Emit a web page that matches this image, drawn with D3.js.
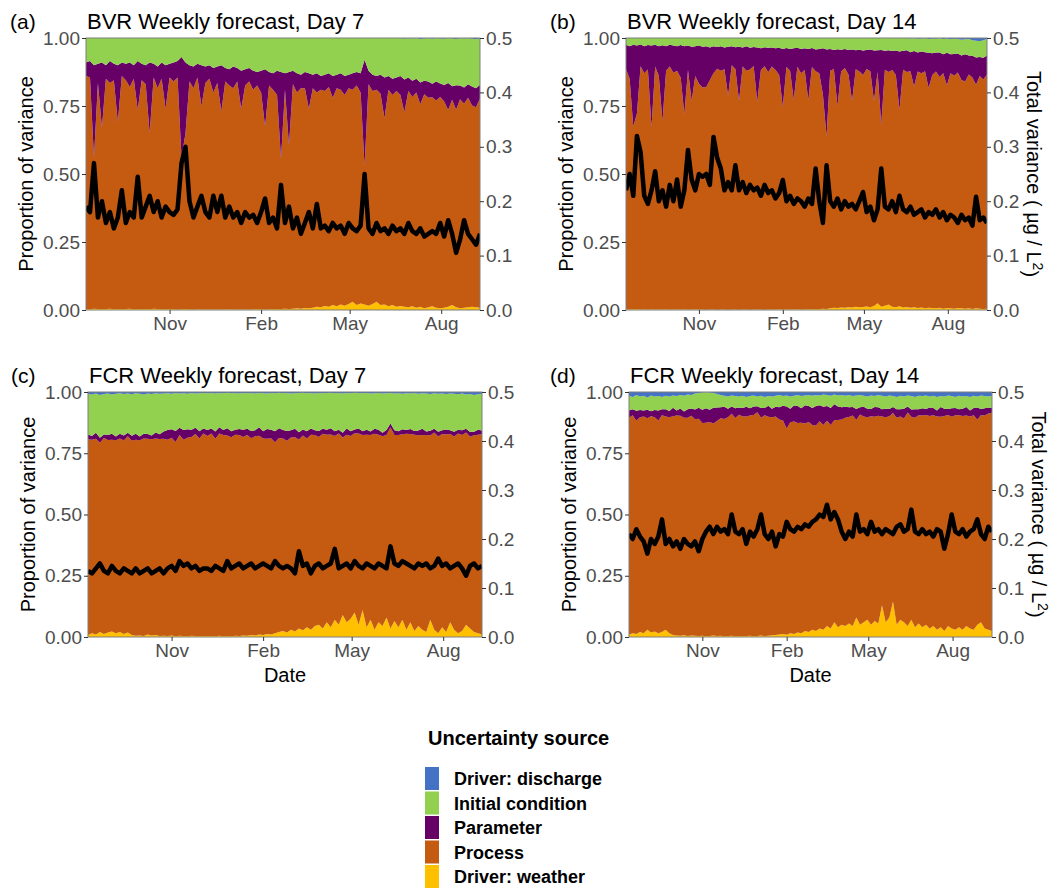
<!DOCTYPE html>
<html><head><meta charset="utf-8">
<script src="https://cdn.jsdelivr.net/npm/d3@7"></script>
<style>
body{margin:0;background:#fff;}
svg{display:block;font-family:"Liberation Sans",Arial,sans-serif;}
</style>
</head><body>
<svg id="chart" width="1059" height="888"></svg>
<script>
// ---------- categories / labels ----------
const sources = ["weather", "process", "parameter", "initial", "discharge"]; // stack order bottom -> top
const legendOrder = ["discharge", "initial", "parameter", "process", "weather"];
const sourceLabels = {discharge: "Driver: discharge", initial: "Initial condition", parameter: "Parameter", process: "Process", weather: "Driver: weather"};
const monthTickDates = ["2020-11-01", "2021-02-01", "2021-05-01", "2021-08-01"];
const monthTickLabels = ["Nov", "Feb", "May", "Aug"];
const leftTicks = [0, 0.25, 0.5, 0.75, 1];
const rightTicks = [0, 0.1, 0.2, 0.3, 0.4, 0.5];
const stepDays = 4;

// ---------- (a) BVR Day 7 ----------
const bvr7Weather = [
0.004,0.003,0.005,0.004,0.003,0.004,0.005,0.003,0.004,0.003,
0.004,0.005,0.003,0.004,0.003,0.004,0.003,0.005,0.004,0.003,
0.003,0.004,0.003,0.002,0.003,0.004,0.003,0.002,0.003,0.003,
0.002,0.003,0.002,0.003,0.002,0.003,0.003,0.002,0.003,0.002,
0.003,0.002,0.003,0.004,0.003,0.002,0.003,0.004,0.003,0.004,
0.005,0.004,0.005,0.006,0.005,0.007,0.006,0.008,0.012,0.01,
0.015,0.012,0.018,0.014,0.02,0.016,0.022,0.03,0.018,0.024,
0.02,0.016,0.022,0.03,0.018,0.02,0.014,0.018,0.012,0.015,
0.012,0.01,0.014,0.008,0.012,0.006,0.01,0.014,0.008,0.006,
0.008,0.012,0.018,0.01,0.006,0.008,0.01,0.012,0.01,0.008];
const bvr7Process = [
0.856,0.852,0.555,0.831,0.667,0.846,0.83,0.842,0.686,0.857,
0.841,0.815,0.847,0.731,0.842,0.826,0.647,0.85,0.811,0.847,
0.737,0.851,0.837,0.853,0.557,0.646,0.837,0.813,0.852,0.747,
0.833,0.847,0.798,0.832,0.728,0.837,0.822,0.813,0.837,0.738,
0.822,0.838,0.807,0.821,0.797,0.673,0.822,0.806,0.787,0.551,
0.805,0.601,0.825,0.794,0.81,0.808,0.734,0.807,0.788,0.80,
0.79,0.808,0.762,0.801,0.79,0.774,0.793,0.78,0.807,0.776,
0.51,0.814,0.783,0.78,0.777,0.685,0.796,0.772,0.793,0.775,
0.715,0.795,0.769,0.792,0.744,0.787,0.77,0.768,0.762,0.777,
0.759,0.723,0.755,0.726,0.769,0.75,0.77,0.74,0.735,0.77];
const bvr7Parameter = [
0.05,0.06,0.34,0.07,0.24,0.05,0.08,0.06,0.21,0.05,
0.06,0.09,0.05,0.18,0.06,0.07,0.26,0.05,0.08,0.06,
0.16,0.05,0.07,0.06,0.37,0.26,0.06,0.08,0.05,0.15,
0.06,0.05,0.09,0.06,0.17,0.05,0.06,0.08,0.05,0.14,
0.06,0.05,0.07,0.05,0.08,0.21,0.05,0.06,0.09,0.32,
0.06,0.27,0.05,0.07,0.05,0.06,0.13,0.05,0.07,0.05,
0.06,0.05,0.08,0.05,0.06,0.07,0.05,0.06,0.05,0.07,
0.39,0.05,0.06,0.05,0.07,0.15,0.05,0.06,0.05,0.07,
0.12,0.05,0.06,0.05,0.08,0.05,0.06,0.05,0.07,0.05,
0.06,0.10,0.05,0.09,0.05,0.06,0.05,0.07,0.07,0.05];
const bvr7Initial = [
0.09,0.085,0.10,0.095,0.09,0.10,0.085,0.095,0.10,0.09,
0.095,0.09,0.10,0.085,0.095,0.10,0.09,0.095,0.105,0.09,
0.10,0.095,0.09,0.085,0.07,0.09,0.10,0.105,0.095,0.10,
0.105,0.10,0.11,0.105,0.10,0.11,0.115,0.105,0.11,0.12,
0.115,0.11,0.12,0.125,0.12,0.115,0.125,0.13,0.12,0.125,
0.13,0.125,0.12,0.13,0.135,0.125,0.13,0.135,0.13,0.14,
0.135,0.13,0.14,0.135,0.13,0.14,0.135,0.13,0.125,0.13,
0.08,0.12,0.135,0.14,0.135,0.145,0.14,0.15,0.145,0.14,
0.15,0.145,0.155,0.15,0.16,0.155,0.16,0.165,0.16,0.165,
0.17,0.165,0.175,0.17,0.175,0.18,0.17,0.175,0.18,0.17];
const bvr7Discharge = [
0,0,0,0,0,0,0,0,0,0, 0,0,0,0,0,0,0,0,0,0,
0,0,0,0,0,0,0,0,0,0, 0,0,0,0,0,0,0,0,0,0,
0,0,0,0,0,0,0,0,0,0, 0,0,0,0,0,0,0,0,0,0,
0,0,0,0,0,0,0,0,0,0, 0,0,0,0,0,0,0,0,0,0,
0.003,0,0.002,0,0.004,0.002,0,0.003,0,0.002,
0.003,0,0.002,0.004,0,0.002,0,0.003,0.005,0.002];
const bvr7TotalVar = [
0.19,0.18,0.27,0.17,0.20,0.16,0.18,0.15,0.17,0.22,
0.16,0.18,0.17,0.245,0.17,0.19,0.21,0.18,0.20,0.17,
0.19,0.18,0.175,0.185,0.27,0.30,0.20,0.17,0.19,0.21,
0.18,0.17,0.21,0.18,0.21,0.17,0.19,0.17,0.18,0.16,
0.18,0.17,0.175,0.16,0.18,0.205,0.16,0.17,0.15,0.23,
0.16,0.19,0.15,0.17,0.14,0.16,0.18,0.15,0.195,0.15,
0.155,0.145,0.16,0.15,0.155,0.14,0.16,0.15,0.145,0.155,
0.25,0.15,0.14,0.16,0.145,0.15,0.14,0.155,0.145,0.15,
0.14,0.16,0.145,0.14,0.15,0.135,0.14,0.145,0.14,0.16,
0.135,0.165,0.14,0.105,0.13,0.165,0.14,0.13,0.12,0.14];

// ---------- (b) BVR Day 14 ----------
const bvr14Weather = [
0.003,0.002,0.003,0.004,0.002,0.003,0.002,0.003,0.002,0.003,
0.002,0.003,0.002,0.002,0.003,0.002,0.003,0.002,0.002,0.003,
0.002,0.002,0.001,0.002,0.002,0.001,0.002,0.002,0.001,0.002,
0.002,0.001,0.002,0.002,0.001,0.002,0.002,0.002,0.001,0.002,
0.002,0.002,0.003,0.002,0.003,0.002,0.003,0.003,0.002,0.003,
0.003,0.004,0.003,0.004,0.005,0.004,0.006,0.008,0.007,0.009,
0.008,0.01,0.009,0.012,0.01,0.011,0.013,0.01,0.015,0.025,
0.012,0.016,0.02,0.012,0.01,0.014,0.009,0.011,0.008,0.01,
0.007,0.009,0.006,0.008,0.007,0.006,0.008,0.005,0.007,0.006,
0.005,0.007,0.006,0.005,0.006,0.004,0.006,0.005,0.004,0.005];
const bvr14Process = [
0.882,0.848,0.672,0.718,0.894,0.867,0.882,0.669,0.893,0.857,
0.691,0.877,0.893,0.87,0.877,0.852,0.717,0.88,0.766,0.857,
0.83,0.816,0.819,0.843,0.868,0.886,0.878,0.883,0.787,0.898,
0.884,0.767,0.893,0.878,0.883,0.895,0.763,0.88,0.895,0.872,
0.893,0.88,0.861,0.743,0.89,0.878,0.769,0.891,0.868,0.879,
0.767,0.889,0.875,0.866,0.787,0.634,0.874,0.878,0.742,0.868,
0.882,0.856,0.759,0.873,0.867,0.853,0.873,0.868,0.754,0.85,
0.669,0.867,0.855,0.87,0.854,0.721,0.874,0.864,0.87,0.812,
0.87,0.861,0.872,0.808,0.857,0.871,0.849,0.865,0.819,0.864,
0.856,0.866,0.84,0.835,0.86,0.851,0.822,0.855,0.843,0.861];
const bvr14Parameter = [
0.09,0.12,0.30,0.25,0.08,0.10,0.09,0.30,0.08,0.11,
0.28,0.09,0.08,0.10,0.09,0.12,0.25,0.09,0.20,0.11,
0.14,0.15,0.15,0.12,0.10,0.08,0.09,0.08,0.18,0.07,
0.08,0.20,0.07,0.09,0.08,0.07,0.20,0.08,0.07,0.09,
0.07,0.08,0.10,0.215,0.07,0.08,0.19,0.07,0.09,0.08,
0.19,0.07,0.08,0.09,0.17,0.32,0.08,0.07,0.21,0.08,
0.07,0.09,0.19,0.07,0.08,0.09,0.07,0.08,0.185,0.08,
0.275,0.07,0.08,0.07,0.09,0.215,0.07,0.08,0.07,0.13,
0.07,0.08,0.07,0.13,0.08,0.07,0.09,0.07,0.12,0.07,
0.08,0.07,0.09,0.10,0.07,0.08,0.10,0.07,0.08,0.07];
const bvr14Initial = [
0.025,0.03,0.025,0.028,0.024,0.03,0.026,0.028,0.025,0.03,
0.027,0.03,0.025,0.028,0.03,0.026,0.03,0.028,0.032,0.03,
0.028,0.032,0.03,0.035,0.03,0.033,0.03,0.035,0.032,0.03,
0.034,0.032,0.035,0.03,0.036,0.033,0.035,0.038,0.034,0.036,
0.035,0.038,0.036,0.04,0.037,0.04,0.038,0.036,0.04,0.038,
0.04,0.037,0.042,0.04,0.038,0.042,0.04,0.044,0.041,0.043,
0.04,0.044,0.042,0.045,0.043,0.046,0.044,0.042,0.046,0.045,
0.044,0.047,0.045,0.048,0.046,0.05,0.047,0.045,0.05,0.048,
0.05,0.048,0.052,0.05,0.054,0.05,0.053,0.056,0.052,0.055,
0.056,0.053,0.058,0.055,0.06,0.057,0.062,0.058,0.065,0.06];
const bvr14Discharge = [
0,0,0,0,0,0,0,0,0,0, 0,0,0,0,0,0,0,0,0,0,
0,0,0,0,0,0,0,0,0,0, 0,0,0,0,0,0,0,0,0,0,
0,0,0,0,0,0,0,0,0,0, 0,0,0,0,0,0,0,0,0,0,
0,0,0,0,0,0,0,0,0,0, 0,0,0,0,0,0,0,0,0.002,0,
0.003,0.002,0,0.004,0.002,0.003,0,0.004,0.002,0.005,
0.003,0.004,0.006,0.005,0.004,0.008,0.01,0.012,0.008,0.004];
const bvr14TotalVar = [
0.22,0.25,0.21,0.32,0.29,0.21,0.195,0.22,0.255,0.20,
0.22,0.19,0.23,0.20,0.24,0.19,0.22,0.294,0.24,0.22,
0.25,0.245,0.25,0.23,0.318,0.28,0.26,0.22,0.235,0.22,
0.266,0.22,0.235,0.215,0.23,0.22,0.225,0.21,0.23,0.215,
0.22,0.205,0.215,0.239,0.20,0.21,0.195,0.205,0.20,0.19,
0.205,0.195,0.26,0.20,0.16,0.266,0.20,0.19,0.205,0.185,
0.20,0.19,0.195,0.185,0.20,0.217,0.18,0.19,0.165,0.185,
0.26,0.19,0.185,0.20,0.18,0.21,0.185,0.18,0.19,0.175,
0.18,0.185,0.17,0.18,0.175,0.185,0.17,0.18,0.165,0.175,
0.17,0.16,0.175,0.165,0.17,0.155,0.208,0.165,0.17,0.16];

// ---------- (c) FCR Day 7 ----------
const fcr7Weather = [
0.008,0.015,0.01,0.02,0.012,0.018,0.022,0.015,0.02,0.012,
0.018,0.008,0.005,0.006,0.004,0.01,0.006,0.008,0.004,0.005,
0.004,0.006,0.003,0.005,0.004,0.003,0.005,0.004,0.003,0.004,
0.003,0.004,0.003,0.005,0.003,0.004,0.003,0.005,0.004,0.006,
0.005,0.008,0.006,0.01,0.008,0.012,0.01,0.015,0.02,0.025,
0.018,0.03,0.022,0.035,0.028,0.04,0.03,0.045,0.05,0.035,
0.06,0.04,0.07,0.05,0.09,0.06,0.075,0.1,0.05,0.11,
0.04,0.07,0.03,0.06,0.045,0.08,0.035,0.065,0.04,0.07,
0.03,0.06,0.025,0.045,0.03,0.02,0.07,0.03,0.015,0.04,
0.02,0.06,0.03,0.015,0.025,0.05,0.035,0.02,0.015,0.01];
const fcr7Process = [
0.799,0.79,0.799,0.773,0.80,0.786,0.783,0.788,0.79,0.79,
0.801,0.793,0.80,0.797,0.806,0.799,0.801,0.802,0.804,0.804,
0.801,0.807,0.793,0.819,0.801,0.81,0.811,0.825,0.807,0.827,
0.817,0.827,0.806,0.826,0.822,0.818,0.812,0.821,0.82,0.81,
0.82,0.803,0.813,0.811,0.802,0.797,0.801,0.78,0.792,0.785,
0.783,0.784,0.793,0.771,0.794,0.77,0.796,0.779,0.766,0.795,
0.766,0.787,0.75,0.781,0.724,0.766,0.745,0.732,0.781,0.715,
0.786,0.754,0.80,0.766,0.774,0.745,0.821,0.759,0.785,0.758,
0.80,0.769,0.801,0.778,0.795,0.804,0.752,0.805,0.803,0.789,
0.807,0.769,0.788,0.816,0.799,0.785,0.782,0.803,0.811,0.818];
const fcr7Parameter = [
0.02,0.015,0.025,0.02,0.015,0.02,0.025,0.015,0.02,0.02,
0.015,0.02,0.025,0.015,0.02,0.02,0.015,0.025,0.02,0.03,
0.04,0.035,0.045,0.03,0.04,0.035,0.03,0.025,0.03,0.02,
0.025,0.02,0.03,0.025,0.02,0.03,0.025,0.02,0.025,0.03,
0.025,0.03,0.025,0.035,0.03,0.04,0.035,0.045,0.04,0.035,
0.04,0.03,0.035,0.03,0.025,0.03,0.025,0.02,0.025,0.02,
0.02,0.025,0.02,0.015,0.02,0.025,0.02,0.015,0.02,0.015,
0.02,0.015,0.02,0.02,0.015,0.02,0.015,0.02,0.015,0.02,
0.015,0.02,0.015,0.02,0.025,0.015,0.02,0.015,0.02,0.015,
0.02,0.015,0.02,0.015,0.02,0.015,0.02,0.015,0.02,0.015];
const fcr7Initial = [
0.165,0.17,0.16,0.175,0.165,0.17,0.16,0.175,0.165,0.17,
0.16,0.17,0.165,0.175,0.16,0.165,0.17,0.16,0.165,0.155,
0.15,0.145,0.155,0.14,0.15,0.145,0.15,0.14,0.155,0.145,
0.15,0.145,0.155,0.14,0.15,0.145,0.155,0.15,0.145,0.15,
0.145,0.155,0.15,0.14,0.155,0.145,0.15,0.155,0.145,0.15,
0.155,0.15,0.145,0.16,0.15,0.155,0.145,0.15,0.155,0.145,
0.15,0.145,0.155,0.15,0.16,0.145,0.155,0.15,0.145,0.155,
0.15,0.155,0.145,0.15,0.16,0.15,0.125,0.15,0.155,0.145,
0.15,0.145,0.155,0.15,0.145,0.155,0.15,0.145,0.155,0.15,
0.145,0.15,0.155,0.145,0.15,0.14,0.155,0.15,0.145,0.15];
const fcr7Discharge = [
0.008,0.01,0.006,0.012,0.008,0.006,0.01,0.007,0.005,0.008,
0.006,0.009,0.005,0.007,0.01,0.006,0.008,0.005,0.007,0.006,
0.005,0.007,0.004,0.006,0.005,0.007,0.004,0.006,0.005,0.004,
0.005,0.004,0.006,0.004,0.005,0.003,0.005,0.004,0.006,0.004,
0.005,0.004,0.006,0.004,0.005,0.006,0.004,0.005,0.003,0.005,
0.004,0.006,0.005,0.004,0.003,0.005,0.004,0.006,0.004,0.005,
0.004,0.003,0.005,0.004,0.006,0.004,0.005,0.003,0.004,0.005,
0.004,0.006,0.005,0.004,0.006,0.005,0.004,0.006,0.005,0.007,
0.005,0.006,0.004,0.007,0.005,0.006,0.008,0.005,0.007,0.006,
0.008,0.006,0.007,0.009,0.006,0.01,0.008,0.012,0.009,0.007];
const fcr7TotalVar = [
0.135,0.13,0.14,0.15,0.135,0.13,0.145,0.135,0.13,0.14,
0.135,0.13,0.14,0.13,0.135,0.14,0.13,0.135,0.14,0.13,
0.14,0.145,0.135,0.155,0.145,0.15,0.14,0.145,0.135,0.14,
0.14,0.135,0.145,0.14,0.135,0.155,0.14,0.145,0.15,0.14,
0.145,0.15,0.14,0.145,0.15,0.145,0.14,0.155,0.145,0.14,
0.145,0.14,0.13,0.175,0.145,0.15,0.13,0.145,0.15,0.14,
0.145,0.15,0.18,0.14,0.145,0.15,0.14,0.155,0.145,0.14,
0.15,0.145,0.14,0.15,0.145,0.14,0.185,0.15,0.145,0.155,
0.15,0.145,0.14,0.15,0.145,0.15,0.14,0.145,0.16,0.145,
0.15,0.14,0.145,0.15,0.14,0.125,0.145,0.15,0.14,0.145];

// ---------- (d) FCR Day 14 ----------
const fcr14Weather = [
0.01,0.015,0.012,0.02,0.015,0.03,0.018,0.022,0.015,0.02,
0.03,0.015,0.008,0.006,0.005,0.007,0.004,0.006,0.005,0.004,
0.005,0.003,0.004,0.006,0.004,0.005,0.003,0.004,0.005,0.003,
0.004,0.003,0.004,0.005,0.003,0.004,0.006,0.004,0.005,0.007,
0.008,0.01,0.012,0.009,0.015,0.012,0.018,0.015,0.025,0.02,
0.03,0.025,0.035,0.03,0.045,0.035,0.06,0.04,0.05,0.045,
0.055,0.045,0.08,0.05,0.06,0.07,0.05,0.065,0.055,0.13,
0.06,0.08,0.145,0.05,0.07,0.06,0.045,0.07,0.04,0.055,
0.04,0.05,0.035,0.045,0.03,0.04,0.025,0.045,0.035,0.03,
0.04,0.03,0.045,0.035,0.03,0.05,0.06,0.035,0.03,0.025];
const fcr14Process = [
0.885,0.89,0.871,0.877,0.885,0.863,0.883,0.875,0.869,0.885,
0.87,0.882,0.893,0.898,0.898,0.888,0.891,0.897,0.884,0.887,
0.868,0.871,0.874,0.865,0.878,0.888,0.887,0.893,0.906,0.891,
0.903,0.897,0.896,0.899,0.903,0.913,0.889,0.901,0.894,0.89,
0.892,0.878,0.872,0.842,0.862,0.868,0.855,0.859,0.846,0.858,
0.835,0.838,0.846,0.835,0.838,0.83,0.825,0.846,0.838,0.85,
0.843,0.859,0.806,0.858,0.84,0.827,0.851,0.834,0.848,0.77,
0.837,0.821,0.769,0.845,0.83,0.832,0.871,0.829,0.855,0.85,
0.864,0.856,0.867,0.86,0.87,0.859,0.877,0.861,0.864,0.875,
0.865,0.872,0.859,0.865,0.875,0.837,0.846,0.869,0.882,0.89];
const fcr14Parameter = [
0.03,0.025,0.04,0.03,0.025,0.035,0.02,0.03,0.04,0.025,
0.03,0.025,0.035,0.02,0.03,0.025,0.035,0.03,0.04,0.045,
0.055,0.06,0.05,0.065,0.055,0.045,0.05,0.035,0.03,0.04,
0.03,0.035,0.04,0.03,0.035,0.025,0.04,0.03,0.045,0.035,
0.04,0.05,0.06,0.09,0.055,0.065,0.07,0.06,0.075,0.065,
0.07,0.08,0.065,0.075,0.06,0.07,0.065,0.055,0.05,0.045,
0.04,0.035,0.045,0.03,0.04,0.035,0.03,0.04,0.035,0.03,
0.035,0.03,0.025,0.035,0.03,0.04,0.025,0.03,0.035,0.025,
0.03,0.025,0.035,0.03,0.025,0.04,0.03,0.025,0.035,0.03,
0.025,0.03,0.035,0.025,0.03,0.05,0.025,0.03,0.025,0.02];
const fcr14Initial = [
0.06,0.05,0.065,0.055,0.06,0.05,0.065,0.055,0.06,0.05,
0.055,0.06,0.05,0.06,0.055,0.065,0.06,0.055,0.065,0.06,
0.07,0.065,0.07,0.06,0.055,0.05,0.045,0.05,0.045,0.05,
0.045,0.05,0.04,0.05,0.045,0.04,0.05,0.045,0.04,0.05,
0.045,0.05,0.04,0.045,0.05,0.04,0.045,0.05,0.04,0.045,
0.05,0.045,0.04,0.05,0.045,0.05,0.04,0.045,0.05,0.045,
0.05,0.045,0.055,0.05,0.045,0.05,0.055,0.045,0.05,0.055,
0.05,0.055,0.045,0.05,0.055,0.05,0.045,0.055,0.05,0.055,
0.05,0.055,0.045,0.05,0.055,0.045,0.05,0.055,0.05,0.045,
0.055,0.05,0.045,0.055,0.05,0.045,0.055,0.05,0.045,0.05];
const fcr14Discharge = [
0.015,0.02,0.012,0.018,0.015,0.022,0.014,0.018,0.016,0.02,
0.015,0.018,0.014,0.016,0.012,0.015,0.01,0.012,0.006,0.004,
0.002,0.001,0.002,0.004,0.008,0.012,0.015,0.018,0.014,0.016,
0.018,0.015,0.02,0.016,0.014,0.018,0.015,0.02,0.016,0.018,
0.015,0.012,0.016,0.014,0.018,0.015,0.012,0.016,0.014,0.012,
0.015,0.012,0.014,0.01,0.012,0.015,0.01,0.014,0.012,0.015,
0.012,0.016,0.014,0.012,0.015,0.018,0.014,0.016,0.012,0.015,
0.018,0.014,0.016,0.02,0.015,0.018,0.014,0.016,0.02,0.015,
0.016,0.014,0.018,0.015,0.02,0.016,0.018,0.014,0.016,0.02,
0.015,0.018,0.016,0.02,0.015,0.018,0.014,0.016,0.018,0.015];
const fcr14TotalVar = [
0.21,0.2,0.22,0.205,0.195,0.17,0.2,0.19,0.205,0.24,
0.19,0.2,0.185,0.195,0.18,0.2,0.19,0.185,0.195,0.175,
0.2,0.215,0.225,0.21,0.225,0.215,0.22,0.21,0.25,0.215,
0.21,0.22,0.19,0.215,0.205,0.22,0.25,0.21,0.2,0.215,
0.185,0.21,0.205,0.235,0.22,0.215,0.225,0.22,0.23,0.225,
0.235,0.24,0.25,0.245,0.27,0.24,0.255,0.24,0.215,0.2,
0.215,0.205,0.25,0.215,0.22,0.21,0.235,0.215,0.22,0.21,
0.22,0.215,0.21,0.225,0.23,0.215,0.22,0.26,0.215,0.21,
0.22,0.21,0.215,0.205,0.22,0.215,0.18,0.21,0.25,0.215,
0.21,0.22,0.205,0.215,0.22,0.24,0.21,0.2,0.225,0.215];

// ---------- panel configuration (layout kept separate from data) ----------
const panels = [
  {tag: "(a)", title: "BVR Weekly forecast, Day 7", start: "2020-08-09",
   series: {weather: bvr7Weather, process: bvr7Process, parameter: bvr7Parameter, initial: bvr7Initial, discharge: bvr7Discharge},
   total: bvr7TotalVar, box: {x0: 86, x1: 480, y0: 38, y1: 310}, tagX: 10, dateLabel: false, rightLabel: false},
  {tag: "(b)", title: "BVR Weekly forecast, Day 14", start: "2020-08-13",
   series: {weather: bvr14Weather, process: bvr14Process, parameter: bvr14Parameter, initial: bvr14Initial, discharge: bvr14Discharge},
   total: bvr14TotalVar, box: {x0: 626, x1: 987, y0: 38, y1: 310}, tagX: 550, dateLabel: false, rightLabel: true},
  {tag: "(c)", title: "FCR Weekly forecast, Day 7", start: "2020-08-09",
   series: {weather: fcr7Weather, process: fcr7Process, parameter: fcr7Parameter, initial: fcr7Initial, discharge: fcr7Discharge},
   total: fcr7TotalVar, box: {x0: 88, x1: 482, y0: 392, y1: 637}, tagX: 11, dateLabel: true, rightLabel: false},
  {tag: "(d)", title: "FCR Weekly forecast, Day 14", start: "2020-08-13",
   series: {weather: fcr14Weather, process: fcr14Process, parameter: fcr14Parameter, initial: fcr14Initial, discharge: fcr14Discharge},
   total: fcr14TotalVar, box: {x0: 629, x1: 992, y0: 392, y1: 637}, tagX: 550, dateLabel: true, rightLabel: true}
];

const colors = {discharge: "#4472C4", initial: "#92D050", parameter: "#660066", process: "#C55A11", weather: "#FFC000"};
const tickColor = "#4D4D4D";

const svg = d3.select("#chart");
const parse = d3.timeParse("%Y-%m-%d");
const tickDates = monthTickDates.map(parse);

panels.forEach((p, pi) => {
  const {x0, x1, y0, y1} = p.box;
  const start = parse(p.start);
  const n = p.total.length;
  const rows = d3.range(n).map(i => {
    const r = {date: d3.timeDay.offset(start, i * stepDays), total: p.total[i]};
    sources.forEach(s => { r[s] = p.series[s][i]; });
    return r;
  });
  const stacked = d3.stack().keys(sources).offset(d3.stackOffsetExpand)(rows);

  const x = d3.scaleTime().domain([rows[0].date, rows[n - 1].date]).range([x0, x1]);
  const y = d3.scaleLinear().domain([0, 1]).range([y1, y0]);
  const yR = d3.scaleLinear().domain([0, 0.5]).range([y1, y0]);

  const g = svg.append("g");
  const clipId = "clip" + pi;
  svg.append("clipPath").attr("id", clipId).append("rect")
    .attr("x", x0).attr("y", y0).attr("width", x1 - x0).attr("height", y1 - y0);

  const plot = g.append("g").attr("clip-path", `url(#${clipId})`);
  const area = d3.area().x(d => x(d.data.date)).y0(d => y(d[0])).y1(d => y(d[1]));
  plot.selectAll("path.layer").data(stacked).join("path")
    .attr("class", "layer").attr("fill", d => colors[d.key]).attr("d", area);

  const line = d3.line().x(d => x(d.date)).y(d => yR(d.total));
  plot.append("path").datum(rows).attr("fill", "none").attr("stroke", "#000")
    .attr("stroke-width", 4.5).attr("stroke-linejoin", "round").attr("d", line);

  g.append("rect").attr("x", x0).attr("y", y0).attr("width", x1 - x0).attr("height", y1 - y0)
    .attr("fill", "none").attr("stroke", "#7F7F7F").attr("stroke-width", 1);

  // axes
  const styleAxis = sel => {
    sel.select(".domain").remove();
    sel.selectAll(".tick line").attr("stroke", "#333").attr("stroke-width", 1);
    sel.selectAll(".tick text").attr("fill", tickColor).style("font-size", "19px")
      .style("font-family", "'Liberation Sans', Arial, sans-serif");
  };
  g.append("g").attr("transform", `translate(${x0},0)`)
    .call(d3.axisLeft(y).tickValues(leftTicks).tickFormat(d3.format(".2f")).tickSize(4).tickPadding(2))
    .call(styleAxis);
  g.append("g").attr("transform", `translate(${x1},0)`)
    .call(d3.axisRight(yR).tickValues(rightTicks).tickFormat(d3.format(".1f")).tickSize(4).tickPadding(2))
    .call(styleAxis);
  g.append("g").attr("transform", `translate(0,${y1})`)
    .call(d3.axisBottom(x).tickValues(tickDates).tickFormat((d, i) => monthTickLabels[i]).tickSize(4).tickPadding(3))
    .call(styleAxis);

  // titles
  g.append("text").attr("x", p.tagX).attr("y", y0 - 9).text(p.tag)
    .style("font-size", "21px").attr("fill", "#000");
  g.append("text").attr("x", x0 + 1).attr("y", y0 - 9).text(p.title)
    .style("font-size", "22px").attr("fill", "#000");

  // y label
  g.append("text").attr("transform", `translate(${x0 - 60},${(y0 + y1) / 2}) rotate(-90)`)
    .attr("text-anchor", "middle").attr("dy", "0.35em").text("Proportion of variance")
    .style("font-size", "20px").attr("fill", "#000");

  if (p.rightLabel) {
    const t = g.append("text").attr("transform", `translate(${x1 + 47},${(y0 + y1) / 2}) rotate(90)`)
      .attr("text-anchor", "middle").attr("dy", "0.35em").style("font-size", "20px").attr("fill", "#000");
    t.append("tspan").text("Total variance ( \u00B5g / L");
    t.append("tspan").attr("dy", "-0.45em").style("font-size", "14px").text("2");
    t.append("tspan").attr("dy", "0.45em").text(")");
  }
  if (p.dateLabel) {
    g.append("text").attr("x", (x0 + x1) / 2).attr("y", y1 + 45).attr("text-anchor", "middle")
      .text("Date").style("font-size", "20px").attr("fill", "#000");
  }
});

// ---------- legend ----------
const lg = svg.append("g");
lg.append("text").attr("x", 428).attr("y", 745).text("Uncertainty source")
  .style("font-size", "20px").style("font-weight", "bold").attr("fill", "#000");
legendOrder.forEach((k, i) => {
  const ky = 767 + i * 24.5;
  lg.append("rect").attr("x", 425).attr("y", ky).attr("width", 14).attr("height", 23).attr("fill", colors[k]);
  lg.append("text").attr("x", 454).attr("y", ky + 12).attr("dy", "0.35em").text(sourceLabels[k])
    .style("font-size", "18px").style("font-weight", "bold").attr("fill", "#000");
});
</script>
</body></html>
